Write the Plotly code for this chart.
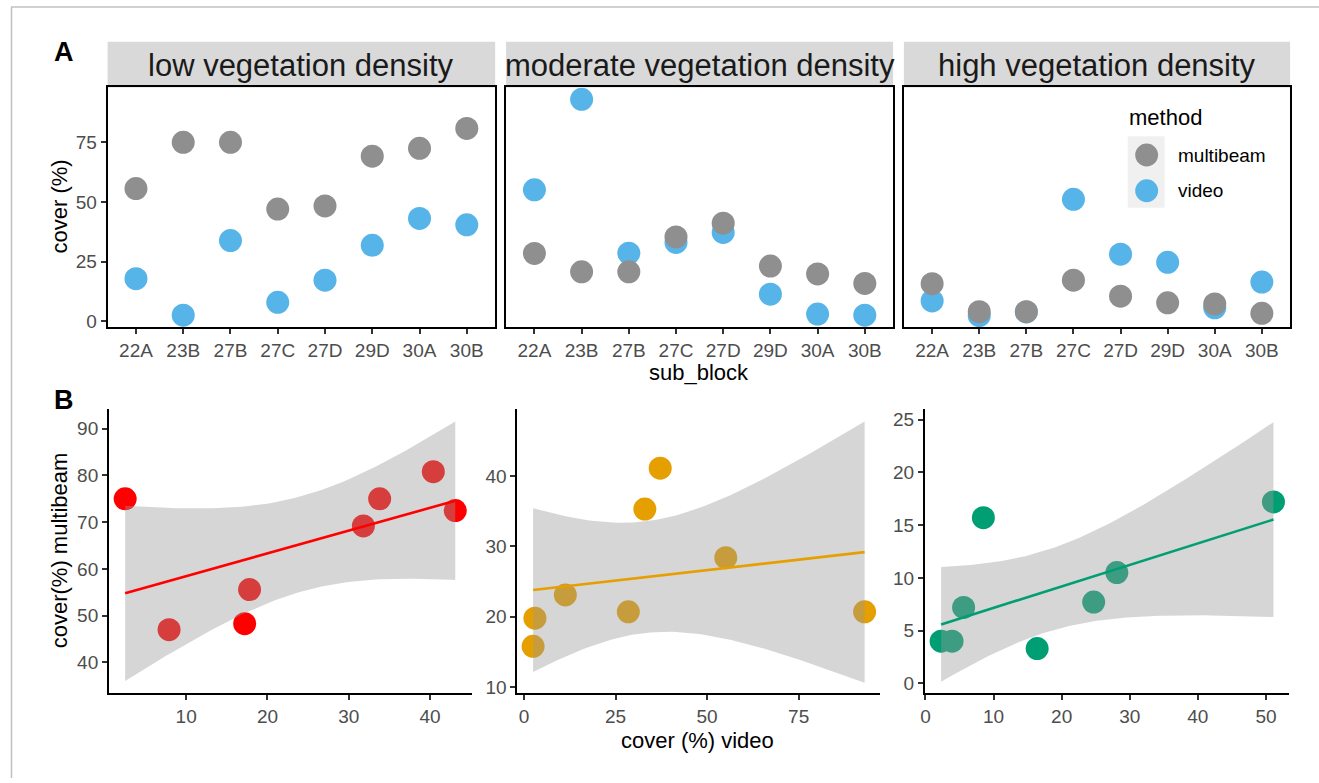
import numpy as np
import plotly.graph_objects as go

W, H = 1319, 783

# ---------------- data ----------------
sub_blocks = ["22A", "23B", "27B", "27C", "27D", "29D", "30A", "30B"]
density_labels = ["low vegetation density", "moderate vegetation density", "high vegetation density"]
method_names = ["multibeam", "video"]

low_multibeam = [55.6, 75.0, 75.0, 47.0, 48.3, 69.2, 72.5, 80.8]
low_video = [17.8, 2.5, 33.8, 7.9, 17.2, 31.8, 43.1, 40.4]
mod_multibeam = [28.4, 20.7, 20.7, 35.3, 41.1, 23.1, 19.8, 15.8]
mod_video = [55.1, 93.0, 28.5, 33.0, 37.2, 11.3, 3.0, 2.5]
high_multibeam = [15.7, 4.0, 4.0, 17.2, 10.5, 7.7, 7.2, 3.3]
high_video = [8.5, 2.3, 3.9, 51.1, 28.1, 24.7, 5.6, 16.4]

multibeam_sets = [low_multibeam, mod_multibeam, high_multibeam]
video_sets = [low_video, mod_video, high_video]

A_y_ticks = [0, 25, 50, 75]
B_x_ticks = [[10, 20, 30, 40], [0, 25, 50, 75], [0, 10, 20, 30, 40, 50]]
B_y_ticks = [[40, 50, 60, 70, 80, 90], [10, 20, 30, 40], [0, 5, 10, 15, 20, 25]]

# ---------------- style ----------------
FONT = "Liberation Sans, Arial, sans-serif"
GRAY_PT = "#8F8F8F"
BLUE_PT = "#56B4E9"
FIT_COLORS = ["#FF0000", "#E69F00", "#009E73"]
RIBBON = "rgba(153,153,153,0.4)"
TICK_FONT = dict(family=FONT, size=19, color="#4D4D4D")
T975_DF6 = 2.446912  # Student t quantile, 95% CI, 6 df


def px(x):
    return x / W


def py(y):
    return 1 - y / H


def fit_band(x, y, n_pts=80):
    x = np.asarray(x, float)
    y = np.asarray(y, float)
    n = len(x)
    b1, b0 = np.polyfit(x, y, 1)
    resid = y - (b0 + b1 * x)
    s = np.sqrt(np.sum(resid ** 2) / (n - 2))
    xs = np.linspace(x.min(), x.max(), n_pts)
    sxx = np.sum((x - x.mean()) ** 2)
    se = s * np.sqrt(1.0 / n + (xs - x.mean()) ** 2 / sxx)
    yhat = b0 + b1 * xs
    return xs, yhat, yhat - T975_DF6 * se, yhat + T975_DF6 * se


A_x_dom = [(103, 492), (503, 891.5), (902.3, 1290)]
A_y_dom = (88, 329)
B_x_dom = [(104.3, 468.3), (514.3, 878.3), (923.3, 1289)]
B_y_dom = (411.7, 697.3)
B_x_rng = [[0.5, 45.1], [-1.8, 97.2], [-0.1, 53.4]]
B_y_rng = [[33.5, 94.2], [9.2, 49.5], [-0.9, 26.0]]

fig = go.Figure()
layout = {}

# ---------------- panel A ----------------
for i in range(3):
    xa = "x" if i == 0 else f"x{i + 1}"
    ya = "y" if i == 0 else f"y{i + 1}"
    fig.add_trace(go.Scatter(x=sub_blocks, y=video_sets[i], mode="markers", xaxis=xa, yaxis=ya,
                             marker=dict(size=23, color=BLUE_PT, line=dict(width=0)),
                             name=method_names[1], showlegend=False, hoverinfo="x+y"))
    fig.add_trace(go.Scatter(x=sub_blocks, y=multibeam_sets[i], mode="markers", xaxis=xa, yaxis=ya,
                             marker=dict(size=23, color=GRAY_PT, line=dict(width=0)),
                             name=method_names[0], showlegend=False, hoverinfo="x+y"))
    kx = "xaxis" if i == 0 else f"xaxis{i + 1}"
    ky = "yaxis" if i == 0 else f"yaxis{i + 1}"
    layout[kx] = dict(domain=[px(A_x_dom[i][0]), px(A_x_dom[i][1])], anchor=ya,
                      type="category", categoryorder="array", categoryarray=sub_blocks,
                      range=[-0.6, 7.6], showgrid=False, zeroline=False,
                      showline=True, mirror=True, linecolor="black", linewidth=1.8,
                      ticks="outside", ticklen=5, tickwidth=1.5, tickcolor="#333333",
                      tickfont=TICK_FONT, fixedrange=True)
    layout[ky] = dict(domain=[py(A_y_dom[1]), py(A_y_dom[0])], anchor=xa,
                      range=[-2.4, 98], tickvals=A_y_ticks, showgrid=False, zeroline=False,
                      showline=True, mirror=True, linecolor="black", linewidth=1.8,
                      ticks="outside" if i == 0 else "", ticklen=5, tickwidth=1.5, tickcolor="#333333",
                      showticklabels=(i == 0), tickfont=TICK_FONT, fixedrange=True)

# ---------------- panel B ----------------
for i in range(3):
    n = i + 4
    xa, ya = f"x{n}", f"y{n}"
    xv, yv = video_sets[i], multibeam_sets[i]
    xs, yhat, lo, hi = fit_band(xv, yv)
    fig.add_trace(go.Scatter(x=xv, y=yv, mode="markers", xaxis=xa, yaxis=ya,
                             marker=dict(size=23, color=FIT_COLORS[i], line=dict(width=0)),
                             showlegend=False, hoverinfo="x+y"))
    fig.add_trace(go.Scatter(x=np.concatenate([xs, xs[::-1]]), y=np.concatenate([hi, lo[::-1]]),
                             mode="lines", fill="toself", fillcolor=RIBBON, line=dict(width=0),
                             xaxis=xa, yaxis=ya, showlegend=False, hoverinfo="skip"))
    fig.add_trace(go.Scatter(x=xs, y=yhat, mode="lines", line=dict(color=FIT_COLORS[i], width=2.6),
                             xaxis=xa, yaxis=ya, showlegend=False, hoverinfo="skip"))
    layout[f"xaxis{n}"] = dict(domain=[px(B_x_dom[i][0]), px(B_x_dom[i][1])], anchor=ya,
                               range=B_x_rng[i], tickvals=B_x_ticks[i], showgrid=False, zeroline=False,
                               showline=True, linecolor="black", linewidth=1.8,
                               ticks="outside", ticklen=5, tickwidth=1.5, tickcolor="#333333",
                               tickfont=TICK_FONT, fixedrange=True)
    layout[f"yaxis{n}"] = dict(domain=[py(B_y_dom[1]), py(B_y_dom[0])], anchor=xa,
                               range=B_y_rng[i], tickvals=B_y_ticks[i], showgrid=False, zeroline=False,
                               showline=True, linecolor="black", linewidth=1.8,
                               ticks="outside", ticklen=5, tickwidth=1.5, tickcolor="#333333",
                               tickfont=TICK_FONT, fixedrange=True)

# ---------------- decorations ----------------
shapes = []
annotations = []

# outer frame (top & left)
shapes.append(dict(type="line", xref="paper", yref="paper", x0=px(6), x1=1, y0=py(7), y1=py(7),
                   line=dict(color="#C0C0C0", width=1.5)))
shapes.append(dict(type="line", xref="paper", yref="paper", x0=px(6.5), x1=px(6.5), y0=py(7), y1=0,
                   line=dict(color="#C0C0C0", width=1.5)))

# facet strips
for i in range(3):
    x0, x1 = A_x_dom[i]
    shapes.append(dict(type="rect", xref="paper", yref="paper", x0=px(x0), x1=px(x1),
                       y0=py(88), y1=py(42), fillcolor="#D9D9D9", line=dict(width=0), layer="below"))
    annotations.append(dict(text=density_labels[i], xref="paper", yref="paper",
                            x=px((x0 + x1) / 2), y=py(66), xanchor="center", yanchor="middle",
                            showarrow=False, font=dict(family=FONT, size=31, color="#1A1A1A")))

# panel letters
annotations.append(dict(text="<b>A</b>", xref="paper", yref="paper", x=px(59), y=py(52),
                        xanchor="center", yanchor="middle", showarrow=False,
                        font=dict(family=FONT, size=27, color="black")))
annotations.append(dict(text="<b>B</b>", xref="paper", yref="paper", x=px(59), y=py(403),
                        xanchor="center", yanchor="middle", showarrow=False,
                        font=dict(family=FONT, size=27, color="black")))

# axis titles
annotations.append(dict(text="cover (%)", xref="paper", yref="paper", x=px(55), y=py(208),
                        xanchor="center", yanchor="middle", textangle=-90, showarrow=False,
                        font=dict(family=FONT, size=22, color="black")))
annotations.append(dict(text="sub_block", xref="paper", yref="paper", x=px(697), y=py(375),
                        xanchor="center", yanchor="middle", showarrow=False,
                        font=dict(family=FONT, size=22, color="black")))
annotations.append(dict(text="cover(%) multibeam", xref="paper", yref="paper", x=px(55), y=py(554),
                        xanchor="center", yanchor="middle", textangle=-90, showarrow=False,
                        font=dict(family=FONT, size=22, color="black")))
annotations.append(dict(text="cover (%) video", xref="paper", yref="paper", x=px(695), y=py(745),
                        xanchor="center", yanchor="middle", showarrow=False,
                        font=dict(family=FONT, size=22, color="black")))

# legend (method)
annotations.append(dict(text="method", xref="paper", yref="paper", x=px(1126), y=py(118),
                        xanchor="left", yanchor="middle", showarrow=False,
                        font=dict(family=FONT, size=22, color="black")))
shapes.append(dict(type="rect", xref="paper", yref="paper", x0=px(1127), x1=px(1164),
                   y0=py(209), y1=py(137), fillcolor="#F0F0F0", line=dict(width=0)))
for k, (col, yc) in enumerate([(GRAY_PT, 156), (BLUE_PT, 192)]):
    r = 11.5
    shapes.append(dict(type="circle", xref="paper", yref="paper", x0=px(1146 - r), x1=px(1146 + r),
                       y0=py(yc + r), y1=py(yc - r), fillcolor=col, line=dict(width=0)))
    annotations.append(dict(text=method_names[k], xref="paper", yref="paper", x=px(1175), y=py(yc),
                            xanchor="left", yanchor="middle", showarrow=False,
                            font=dict(family=FONT, size=19, color="black")))

fig.update_layout(**layout)
fig.update_layout(width=W, height=H, margin=dict(l=0, r=0, t=0, b=0),
                  paper_bgcolor="white", plot_bgcolor="white", showlegend=False,
                  font=dict(family=FONT), shapes=shapes, annotations=annotations,
                  hovermode="closest")

fig.write_html("out.html", config=dict(displayModeBar=False))
